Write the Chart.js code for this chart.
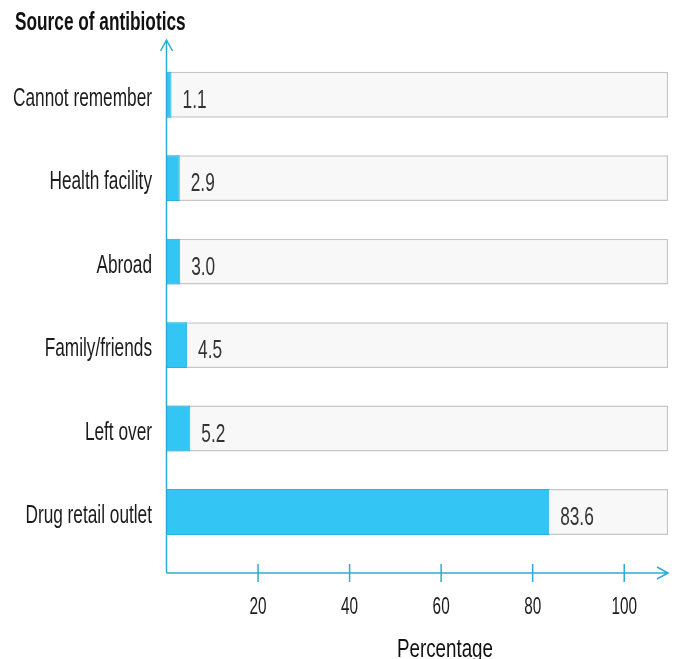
<!DOCTYPE html>
<html lang="en">
<head>
<meta charset="UTF-8" />
<title>Source of antibiotics</title>
<script src="https://cdn.jsdelivr.net/npm/chart.js@4"></script>
<style>
  body { margin: 0; background: #fff; }
</style>
</head>
<body>
<canvas id="myChart" width="676" height="659"></canvas>
<script>
  // data
  var sources = ['Cannot remember', 'Health facility', 'Abroad', 'Family/friends', 'Left over', 'Drug retail outlet'];
  var percent = [1.1, 2.9, 3.0, 4.5, 5.2, 83.6];
  var xTicks = [20, 40, 60, 80, 100];
  var trackEnd = 109.6; // grey background bars run to here

  var FONT = "'Liberation Sans', Arial, sans-serif";
  var AXIS = '#2eaad6';
  var SQUEEZE = 0.69; // the original text is tall and narrow

  // squeezed text, the canvas has no condensed font
  function txt(c, s, x, y, align, font, sx) {
    c.save();
    c.translate(x, y);
    c.scale(sx || SQUEEZE, 1);
    c.textAlign = align;
    c.font = font;
    c.fillText(s, 0, 0);
    c.restore();
  }

  // axes with arrows, tick marks, labels and titles
  var decor = {
    id: 'decor',
    afterDatasetsDraw: function (chart) {
      var c = chart.ctx, xs = chart.scales.x, ys = chart.scales.y;
      var x0 = xs.getPixelForValue(0);
      var yAxis = 573, yTop = 40, xEnd = 668;
      c.save();
      c.strokeStyle = AXIS;
      c.lineWidth = 1.5;
      c.beginPath();
      c.moveTo(x0, yAxis); c.lineTo(x0, yTop);
      c.moveTo(x0 - 6, yTop + 11); c.lineTo(x0, yTop); c.lineTo(x0 + 6, yTop + 11);
      c.moveTo(x0, yAxis); c.lineTo(xEnd, yAxis);
      c.moveTo(xEnd - 11, yAxis - 6); c.lineTo(xEnd, yAxis); c.lineTo(xEnd - 11, yAxis + 6);
      xTicks.forEach(function (t) {
        var px = xs.getPixelForValue(t);
        c.moveTo(px, yAxis - 9); c.lineTo(px, yAxis + 9);
      });
      c.stroke();

      c.textBaseline = 'alphabetic';
      c.fillStyle = '#1c1c1c';

      // category labels
      chart.data.labels.forEach(function (lab, i) {
        txt(c, lab, 152, ys.getPixelForValue(i) + 11, 'right', '25px ' + FONT);
      });

      // tick labels under the axis
      xTicks.forEach(function (t) {
        txt(c, String(t), xs.getPixelForValue(t), 614, 'center', '24px ' + FONT, 0.64);
      });

      // value labels
      c.fillStyle = '#333';
      percent.forEach(function (v, i) {
        txt(c, v.toFixed(1), xs.getPixelForValue(v) + 11, ys.getPixelForValue(i) + 13, 'left', '25px ' + FONT);
      });

      // titles
      c.fillStyle = '#111';
      txt(c, 'Source of antibiotics', 15, 30, 'left', 'bold 25px ' + FONT);
      txt(c, 'Percentage', 445, 657, 'center', '25px ' + FONT, 0.75);
      c.restore();
    }
  };

  var ctx = document.getElementById('myChart').getContext('2d');
  var myChart = new Chart(ctx, {
    type: 'bar',
    data: {
      labels: sources,
      datasets: [
        {
          data: percent,
          backgroundColor: '#33c6f4',
          borderColor: '#27b4e2',
          borderWidth: 1,
          grouped: false,
          barPercentage: 0.55,
          categoryPercentage: 1
        },
        {
          data: sources.map(function () { return trackEnd; }),
          backgroundColor: '#f8f8f8',
          borderColor: '#c6c6c6',
          borderWidth: 1.5,
          grouped: false,
          barPercentage: 0.55,
          categoryPercentage: 1
        }
      ]
    },
    options: {
      indexAxis: 'y',
      responsive: false,
      animation: false,
      layout: { padding: { top: 53, right: 6, left: 0, bottom: 0 } },
      plugins: {
        legend: { display: false },
        tooltip: { enabled: false }
      },
      scales: {
        x: {
          min: 0,
          max: 110,
          border: { display: false },
          grid: { display: false, drawTicks: false },
          ticks: { display: false },
          afterFit: function (s) { s.height = 105.3; }
        },
        y: {
          border: { display: false },
          grid: { display: false, drawTicks: false },
          ticks: { display: false },
          afterFit: function (s) { s.width = 166.5; }
        }
      }
    },
    plugins: [decor]
  });
</script>
</body>
</html>
